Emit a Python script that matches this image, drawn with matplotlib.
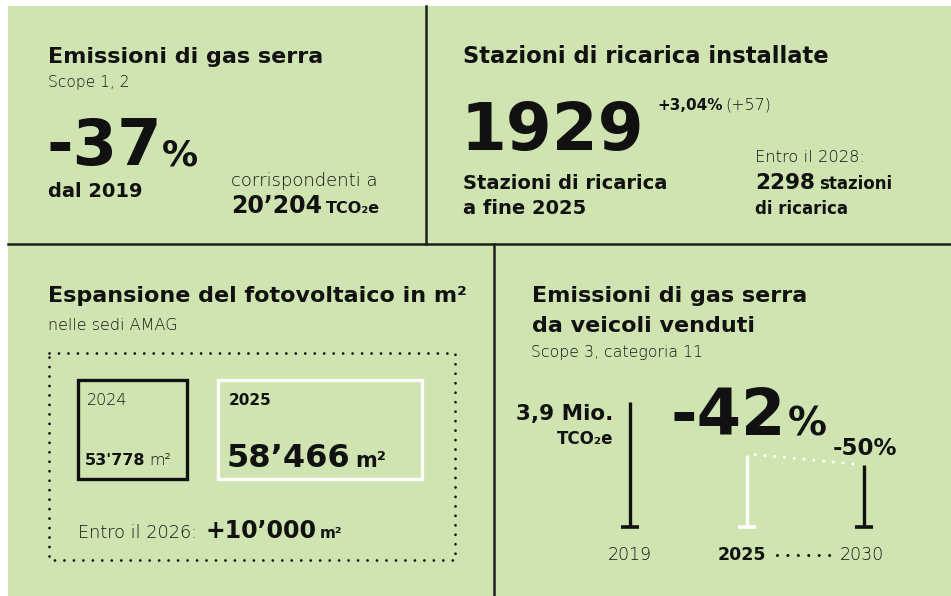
import matplotlib
matplotlib.use("Agg")
import matplotlib.pyplot as plt
from matplotlib.patches import Rectangle

# figures shown in the four panels
scope12_change = "-37"
scope12_since = "dal 2019"
scope12_tco2e = 20204

chargers_2025 = 1929
chargers_growth = "+3,04%"
chargers_added = "(+57)"
chargers_target_year = 2028
chargers_target = 2298

pv_years = ["2024", "2025"]
pv_area_m2 = [53778, 58466]
pv_target_year = 2026
pv_target_add = 10000

s3_years = ["2019", "2025", "2030"]
s3_mio_t = [3.9, 2.26, 1.95]
s3_base_label = "3,9 Mio."
s3_change_2025 = "-42"
s3_target_2030 = "-50%"

BG = "#cfe4b0"
INK = "#111111"
SOFT = "#141414"
LIGHT = "light"

plt.rcParams["font.family"] = ["DejaVu Sans"]


def fmt(v, q="’"):
    return f"{v:,}".replace(",", q)


def run(ax, x, y, parts):
    # put pieces of text one after another on the same baseline
    r = ax.figure.canvas.get_renderer()
    for s, size, weight, gap in parts:
        t = ax.text(x, y, s, fontsize=size, fontweight=weight,
                    color=INK if weight == "bold" else SOFT,
                    va="baseline", ha="left")
        bb = t.get_window_extent(renderer=r)
        x = bb.x1 + gap


def main():
    fig = plt.figure(figsize=(9.51, 5.96), dpi=100, facecolor="white")
    ax = fig.add_axes([0, 0, 1, 1])
    ax.set_xlim(0, 951)
    ax.set_ylim(596, 0)
    ax.axis("off")

    ax.add_patch(Rectangle((8, 6), 943, 590, facecolor=BG, edgecolor="none"))
    ax.plot([426, 426], [6, 244], color="#1e1e1e", lw=1.8)
    ax.plot([8, 951], [244, 244], color="#1e1e1e", lw=1.8)
    ax.plot([494, 494], [244, 596], color="#1e1e1e", lw=1.8)

    # --- top left
    run(ax, 48, 63, [("Emissioni di gas serra", 16, "bold", 0)])
    run(ax, 48, 87, [("Scope 1, 2", 11.2, LIGHT, 0)])
    run(ax, 46, 165, [(scope12_change, 46, "bold", 0), ("%", 26, "bold", 0)])
    run(ax, 48, 197, [(scope12_since, 14, "bold", 0)])
    run(ax, 231, 186, [("corrispondenti a", 13, LIGHT, 0)])
    run(ax, 231, 213, [(fmt(scope12_tco2e), 17, "bold", 4),
                       ("TCO₂e", 11.5, "bold", 0)])

    # --- top right
    run(ax, 463, 63, [("Stazioni di ricarica installate", 16.3, "bold", 0)])
    run(ax, 461, 150, [(str(chargers_2025), 47.5, "bold", 0)])
    run(ax, 657, 110, [(chargers_growth, 11, "bold", 3),
                       (chargers_added, 11.5, LIGHT, 0)])
    run(ax, 463, 189, [("Stazioni di ricarica", 14, "bold", 0)])
    run(ax, 463, 214, [("a fine 2025", 14, "bold", 0)])
    run(ax, 755, 162, [(f"Entro il {chargers_target_year}:", 11.8, LIGHT, 0)])
    run(ax, 755, 189, [(str(chargers_target), 15.5, "bold", 4),
                       ("stazioni", 12, "bold", 0)])
    run(ax, 755, 214, [("di ricarica", 12, "bold", 0)])

    # --- bottom left
    run(ax, 48, 302, [("Espansione del fotovoltaico in m²", 16, "bold", 0)])
    run(ax, 48, 330, [("nelle sedi AMAG", 11.5, LIGHT, 0)])
    ax.add_patch(Rectangle((49, 353), 406, 207, fill=False, edgecolor=INK,
                           lw=2.0, linestyle=(0, (0.01, 3.4)),
                           capstyle="round"))
    ax.add_patch(Rectangle((78, 380), 109, 99, fill=False, edgecolor=INK, lw=2.4))
    ax.add_patch(Rectangle((218, 380), 204, 99, fill=False, edgecolor="white", lw=2.4))
    run(ax, 87, 405, [(pv_years[0], 11.5, LIGHT, 0)])
    run(ax, 85, 465, [(fmt(pv_area_m2[0], "'"), 11.5, "bold", 4),
                      ("m²", 11.5, LIGHT, 0)])
    run(ax, 229, 405, [(pv_years[1], 11, "bold", 0)])
    run(ax, 227, 467, [(fmt(pv_area_m2[1]), 23, "bold", 5),
                       ("m²", 15, "bold", 0)])
    run(ax, 78, 538, [(f"Entro il {pv_target_year}:", 12.8, LIGHT, 8),
                      ("+" + fmt(pv_target_add), 17, "bold", 4),
                      ("m²", 11, "bold", 0)])

    # --- bottom right
    run(ax, 532, 302, [("Emissioni di gas serra", 16, "bold", 0)])
    run(ax, 532, 332, [("da veicoli venduti", 16, "bold", 0)])
    run(ax, 531, 357, [("Scope 3, categoria 11", 11.3, LIGHT, 0)])
    ax.text(613, 420, s3_base_label, fontsize=15.5, fontweight="bold",
            color=INK, ha="right", va="baseline")
    ax.text(613, 444, "TCO₂e", fontsize=12, fontweight="bold",
            color=INK, ha="right", va="baseline")
    run(ax, 671, 435, [(s3_change_2025, 46, "bold", 1), ("%", 28, "bold", 0)])
    run(ax, 833, 455, [(s3_target_2030, 16.5, "bold", 0)])

    # bars: 3.9 Mio t in 2019 -> 2025 -> 2030 target
    bx = fig.add_axes([571.5 / 951, (596 - 527) / 596, 351 / 951, 125 / 596])
    bx.set_xlim(-0.5, 2.5)
    bx.set_ylim(0, s3_mio_t[0])
    bx.axis("off")
    xpos = [0, 1, 2]
    colors = [INK, "white", INK]
    for x, v, c in zip(xpos, s3_mio_t, colors):
        bx.plot([x, x], [0, v], color=c, lw=2.4, solid_capstyle="butt",
                clip_on=False)
        bx.plot([x - 0.08, x + 0.08], [0, 0], color=c, lw=2.6,
                solid_capstyle="butt", clip_on=False)
    bx.plot([xpos[1] + 0.07, xpos[2] - 0.05], [s3_mio_t[1], s3_mio_t[2]],
            color="white", lw=2.2, linestyle=(0, (0.01, 3.2)),
            dash_capstyle="round", clip_on=False)

    weights = [LIGHT, "bold", LIGHT]
    for x, yr, w in zip([630, 742, 862], s3_years, weights):
        ax.text(x, 560, yr, fontsize=12.5, fontweight=w,
                color=INK if w == "bold" else SOFT, ha="center", va="baseline")
    ax.plot([777, 833], [555, 555], color=INK, lw=2.2,
            linestyle=(0, (0.01, 3.4)), dash_capstyle="round")

    fig.savefig("out.png", dpi=100, facecolor="white")


if __name__ == "__main__":
    main()
